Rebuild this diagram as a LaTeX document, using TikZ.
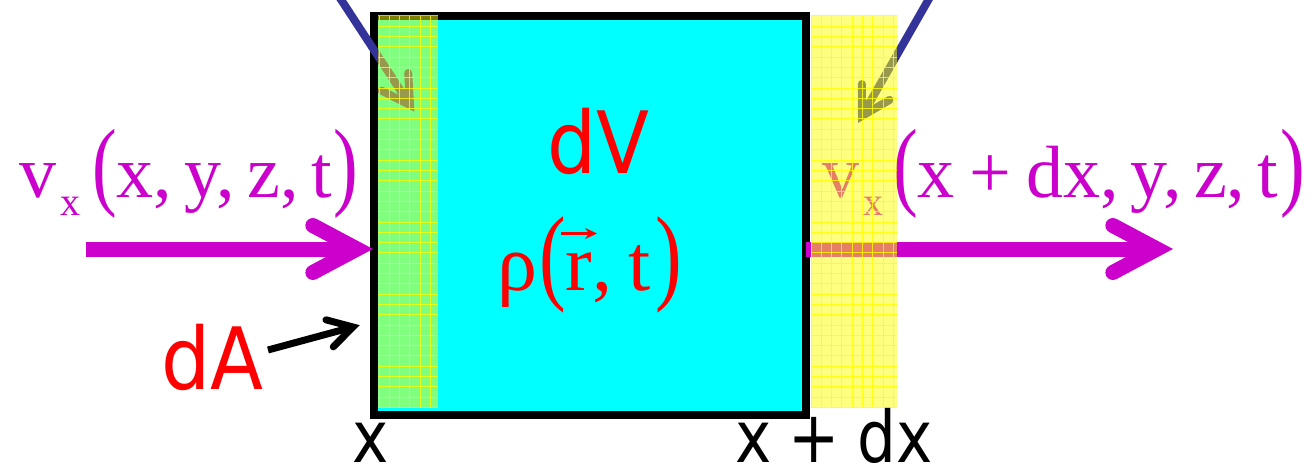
\documentclass[tikz,border=0pt]{standalone}
\usepackage{fontspec}
\usepackage{graphicx}
\setmainfont{Liberation Serif}
\newfontfamily\sansf[FakeStretch=0.9]{DejaVu Sans}
\newfontfamily\sansn[FakeStretch=0.85]{DejaVu Sans}
\usetikzlibrary{calc,arrows.meta}
\definecolor{mag}{RGB}{204,0,204}
\definecolor{navyline}{RGB}{51,51,153}
\definecolor{cyanfill}{RGB}{0,255,255}
\definecolor{yel}{RGB}{255,255,0}
\definecolor{redtxt}{RGB}{255,0,0}
\newcommand{\tallp}[2]{\scalebox{1}[#1]{#2}}
\newcommand{\vecr}{\ooalign{r\cr\hidewidth\raisebox{51pt}{\tikz\draw[redtxt,line width=3.5pt,-{Stealth[length=12pt,width=11pt]}] (0pt,0pt)--(36pt,0pt);}\hidewidth\cr}}
\begin{document}
\begin{tikzpicture}[x=1pt,y=-1pt,
  volbox/.style={draw=black, fill=cyanfill, line width=8.5pt, minimum width=432pt, minimum height=399pt, inner sep=0pt},
  sanslbl/.style={font=\sansf\fontsize{86}{86}\selectfont, text=redtxt, inner sep=0pt},
  xlbl/.style={font=\sansn\fontsize{72}{72}\selectfont, text=black, inner sep=0pt},
  mathlbl/.style={font=\fontsize{74}{74}\selectfont, text=mag, inner sep=0pt},
  magline/.style={draw=mag, line width=15pt},
  chev/.style={line cap=round, line join=miter},
  blueline/.style={draw=navyline, line width=8pt},
  blackline/.style={draw=black, line width=7pt},
  stripfill/.style={fill=yel, fill opacity=0.5},
  gridline/.style={draw=yel, line width=1pt, opacity=0.8}]
\useasboundingbox (0,0) rectangle (1312,468);
% control volume
\node[volbox] (vol) at (590,215.5) {};
% labels
\node[sanslbl, anchor=base west] (dV) at (547,173) {dV};
\node[sanslbl, anchor=base west] (dA) at (161,389) {dA};
\node[xlbl, anchor=base] (x0) at (371,462) {x};
\node[xlbl, anchor=base west] (x1) at (735,462) {x\hspace{-2pt} + \hspace{-2pt}dx};
\node[mathlbl, anchor=base west] (vL) at (19,197) {v\hspace{4pt}\raisebox{-18pt}{\fontsize{40}{40}\selectfont x}\hspace{12pt}\tallp{1.33}{(}x,\,y,\,z,\,t\hspace{2pt}\tallp{1.33}{)}};
\node[mathlbl, anchor=base west] (vR) at (822,197) {v\hspace{4pt}\raisebox{-18pt}{\fontsize{40}{40}\selectfont x}\hspace{10pt}\tallp{1.33}{(}x\hspace{0.2em}+\hspace{0.2em}dx,\,y,\,z,\,t\hspace{2pt}\tallp{1.33}{)}};
\node[mathlbl, text=redtxt, font=\fontsize{80}{80}\selectfont, anchor=base west] (rho) at (497,290) {ρ\hspace{2pt}\tallp{1.33}{(}\vecr,\hspace{0.2em}t\hspace{0.06em}\tallp{1.33}{)}};
% magenta flow arrows
\coordinate (mL0) at (86,249);
\coordinate (mL1) at (357,249);
\coordinate (mR0) at (806,249);
\coordinate (mR1) at (1157,249);
\draw[magline] (mL0) -- (mL1);
\draw[magline, chev] ($(mL1)!50pt!28:(mL0)$) -- (mL1) -- ($(mL1)!50pt!-28:(mL0)$);
\draw[magline] (mR0) -- (mR1);
\draw[magline, chev] ($(mR1)!50pt!28:(mR0)$) -- (mR1) -- ($(mR1)!50pt!-28:(mR0)$);
% dA pointer
\coordinate (bA0) at (268,350);
\coordinate (bA1) at (353,327);
\draw[blackline] (bA0) -- (bA1);
\draw[blackline, chev] ($(bA1)!28pt!30:(bA0)$) -- (bA1) -- ($(bA1)!28pt!-30:(bA0)$);
% blue pointers
\coordinate (bl0) at (338,-5);
\coordinate (bl1) at (410,105);
\coordinate (br0) at (930,-3);
\coordinate (br1) at (862,116);
\draw[blueline] (bl0) -- (bl1);
\draw[blueline, chev] ($(bl1)!32pt!30:(bl0)$) -- (bl1) -- ($(bl1)!32pt!-30:(bl0)$);
\draw[blueline] (br0) -- (br1);
\draw[blueline, chev] ($(br1)!32pt!30:(br0)$) -- (br1) -- ($(br1)!32pt!-30:(br0)$);
% translucent surface strips
\fill[stripfill] (378,16) rectangle (438,408);
\fill[stripfill] (811,16) rectangle (897,407);
\foreach \i in {0,...,5} \draw[gridline] (379+\i*10.3,16) -- (379+\i*10.3,408);
\foreach \j in {0,...,38} \draw[gridline] (378,16+\j*10.3) -- (438,16+\j*10.3);
\foreach \i in {0,...,8} \draw[gridline] (811+\i*10.3,16) -- (811+\i*10.3,407);
\foreach \j in {0,...,38} \draw[gridline] (811,16+\j*10.3) -- (897,16+\j*10.3);
\end{tikzpicture}
\end{document}
